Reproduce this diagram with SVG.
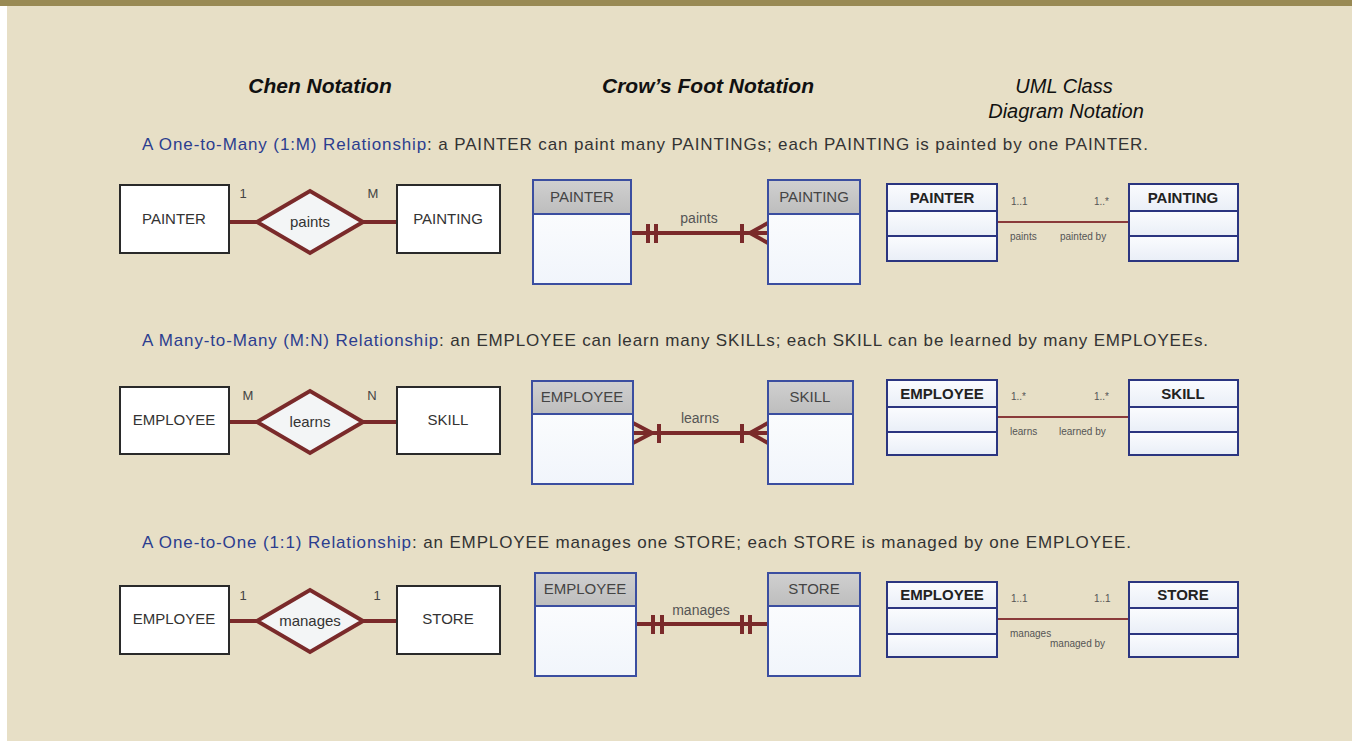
<svg xmlns="http://www.w3.org/2000/svg" width="1352" height="741" viewBox="0 0 1352 741">
<defs>
<linearGradient id="cfHead" x1="0" y1="0" x2="0" y2="1"><stop offset="0" stop-color="#d0d0d0"/><stop offset="1" stop-color="#bdbdbd"/></linearGradient>
<linearGradient id="cfBody" x1="0" y1="0" x2="0" y2="1"><stop offset="0" stop-color="#ffffff"/><stop offset="1" stop-color="#f1f5fb"/></linearGradient>
<linearGradient id="umlRow" x1="0" y1="0" x2="0" y2="1"><stop offset="0" stop-color="#fbfcfe"/><stop offset="1" stop-color="#e9eef7"/></linearGradient>
</defs>
<style>
text{font-family:"Liberation Sans",Arial,sans-serif}
.hdr{font-size:21px;font-weight:bold;font-style:italic;fill:#111;text-anchor:middle}
.hdr2{font-size:20px;font-style:italic;fill:#111;text-anchor:middle}
.cap{font-size:17px;fill:#333}
.capb{fill:#2b3d8f}
.chenBox{fill:#ffffff;stroke:#2a2a2a;stroke-width:2}
.chenTxt{font-size:15px;fill:#333;text-anchor:middle}
.dia{fill:#f3f5f6;stroke:#7a2a2a;stroke-width:4;stroke-linejoin:miter}
.rel{stroke:#7a2a2a;stroke-width:4;fill:none}
.card{font-size:13px;fill:#444;text-anchor:middle}
.cfHead{fill:url(#cfHead);stroke:#3b4ea0;stroke-width:2}
.cfBody{fill:url(#cfBody);stroke:#3b4ea0;stroke-width:2}
.cfTxt{font-size:15px;fill:#444;text-anchor:middle}
.cfLine{stroke:#7a2a2a;stroke-width:4;fill:none}
.cfLbl{font-size:14px;fill:#555;text-anchor:middle}
.uml{fill:url(#umlRow);stroke:#2b3580;stroke-width:2}
.umlTxt{font-size:15px;font-weight:bold;fill:#222;text-anchor:middle}
.umlLine{stroke:#8a3a3a;stroke-width:1.8;fill:none}
.small{font-size:10px;fill:#555}
</style>
<rect x="0" y="0" width="1352" height="741" fill="#e7dfc6"/>
<rect x="0" y="6" width="7" height="735" fill="#ffffff"/>
<rect x="0" y="0" width="1352" height="6" fill="#998a54"/>

<g id="headers">
<text class="hdr" x="320" y="93">Chen Notation</text>
<text class="hdr" x="708" y="93">Crow’s Foot Notation</text>
<text class="hdr2" x="1064" y="93">UML Class</text>
<text class="hdr2" x="1066" y="118">Diagram Notation</text>
</g>

<g id="captions">
<text class="cap" x="142" y="150" textLength="1006" lengthAdjust="spacing"><tspan class="capb">A One-to-Many (1:M) Relationship</tspan>: a PAINTER can paint many PAINTINGs; each PAINTING is painted by one PAINTER.</text>
<text class="cap" x="142" y="346" textLength="1066" lengthAdjust="spacing"><tspan class="capb">A Many-to-Many (M:N) Relationship</tspan>: an EMPLOYEE can learn many SKILLs; each SKILL can be learned by many EMPLOYEEs.</text>
<text class="cap" x="142" y="548" textLength="989" lengthAdjust="spacing"><tspan class="capb">A One-to-One (1:1) Relationship</tspan>: an EMPLOYEE manages one STORE; each STORE is managed by one EMPLOYEE.</text>
</g>

<g id="connectors">
<path class="rel" d="M229 222 H257 M363 222 H397"/>
<path class="rel" d="M229 422 H257 M363 422 H397"/>
<path class="rel" d="M229 621 H257 M363 621 H397"/>
<path class="cfLine" d="M632 233 H768 M648 224 V243 M656 224 V243 M742 224 V243 M750 233 L768 223 M750 233 L768 243"/>
<path class="cfLine" d="M633 433 H768 M633 423 L652 433 L633 443 M659 424 V443 M742 424 V443 M750 433 L768 423 M750 433 L768 443"/>
<path class="cfLine" d="M636 624 H768 M653 615 V634 M662 615 V634 M742 615 V634 M750 615 V634"/>
<path class="umlLine" d="M997 222 H1129"/>
<path class="umlLine" d="M997 417 H1129"/>
<path class="umlLine" d="M997 619 H1129"/>
</g>

<g id="conn-labels">
<text class="card" x="243" y="198">1</text>
<text class="card" x="373" y="198">M</text>
<text class="card" x="248" y="400">M</text>
<text class="card" x="372" y="400">N</text>
<text class="card" x="243" y="600">1</text>
<text class="card" x="377" y="600">1</text>
<text class="cfLbl" x="699" y="223">paints</text>
<text class="cfLbl" x="700" y="423">learns</text>
<text class="cfLbl" x="701" y="615">manages</text>
<text class="small" x="1011" y="205">1..1</text>
<text class="small" x="1094" y="205">1..*</text>
<text class="small" x="1010" y="240">paints</text>
<text class="small" x="1060" y="240">painted by</text>
<text class="small" x="1011" y="400">1..*</text>
<text class="small" x="1094" y="400">1..*</text>
<text class="small" x="1010" y="435">learns</text>
<text class="small" x="1059" y="435">learned by</text>
<text class="small" x="1011" y="602">1..1</text>
<text class="small" x="1094" y="602">1..1</text>
<text class="small" x="1010" y="637">manages</text>
<text class="small" x="1050" y="647">managed by</text>
</g>

<g id="chen-painter"><rect class="chenBox" x="120" y="185" width="109" height="68"/><text class="chenTxt" x="174" y="224">PAINTER</text></g>
<g id="chen-paints"><polygon class="dia" points="257,222 310,191 363,222 310,253"/><text class="chenTxt" x="310" y="227">paints</text></g>
<g id="chen-painting"><rect class="chenBox" x="397" y="185" width="103" height="68"/><text class="chenTxt" x="448" y="224">PAINTING</text></g>

<g id="chen-employee1"><rect class="chenBox" x="120" y="387" width="109" height="67"/><text class="chenTxt" x="174" y="425">EMPLOYEE</text></g>
<g id="chen-learns"><polygon class="dia" points="257,422 310,391 363,422 310,453"/><text class="chenTxt" x="310" y="427">learns</text></g>
<g id="chen-skill"><rect class="chenBox" x="397" y="387" width="103" height="67"/><text class="chenTxt" x="448" y="425">SKILL</text></g>

<g id="chen-employee2"><rect class="chenBox" x="120" y="586" width="109" height="68"/><text class="chenTxt" x="174" y="624">EMPLOYEE</text></g>
<g id="chen-manages"><polygon class="dia" points="257,621 310,590 363,621 310,652"/><text class="chenTxt" x="310" y="626">manages</text></g>
<g id="chen-store"><rect class="chenBox" x="397" y="586" width="103" height="68"/><text class="chenTxt" x="448" y="624">STORE</text></g>

<g id="cf-painter"><rect class="cfBody" x="533" y="180" width="98" height="104"/><rect class="cfHead" x="533" y="180" width="98" height="34"/><text class="cfTxt" x="582" y="202">PAINTER</text></g>
<g id="cf-painting"><rect class="cfBody" x="768" y="180" width="92" height="104"/><rect class="cfHead" x="768" y="180" width="92" height="34"/><text class="cfTxt" x="814" y="202">PAINTING</text></g>

<g id="cf-employee1"><rect class="cfBody" x="532" y="381" width="101" height="103"/><rect class="cfHead" x="532" y="381" width="101" height="33"/><text class="cfTxt" x="582" y="402">EMPLOYEE</text></g>
<g id="cf-skill"><rect class="cfBody" x="768" y="381" width="85" height="103"/><rect class="cfHead" x="768" y="381" width="85" height="33"/><text class="cfTxt" x="810" y="402">SKILL</text></g>

<g id="cf-employee2"><rect class="cfBody" x="535" y="573" width="101" height="103"/><rect class="cfHead" x="535" y="573" width="101" height="33"/><text class="cfTxt" x="585" y="594">EMPLOYEE</text></g>
<g id="cf-store"><rect class="cfBody" x="768" y="573" width="92" height="103"/><rect class="cfHead" x="768" y="573" width="92" height="33"/><text class="cfTxt" x="814" y="594">STORE</text></g>

<g id="uml-painter"><rect class="uml" x="887" y="184" width="110" height="27"/><rect class="uml" x="887" y="211" width="110" height="25"/><rect class="uml" x="887" y="236" width="110" height="25"/><text class="umlTxt" x="942" y="203">PAINTER</text></g>
<g id="uml-painting"><rect class="uml" x="1129" y="184" width="109" height="27"/><rect class="uml" x="1129" y="211" width="109" height="25"/><rect class="uml" x="1129" y="236" width="109" height="25"/><text class="umlTxt" x="1183" y="203">PAINTING</text></g>

<g id="uml-employee1"><rect class="uml" x="887" y="380" width="110" height="27"/><rect class="uml" x="887" y="407" width="110" height="25"/><rect class="uml" x="887" y="432" width="110" height="23"/><text class="umlTxt" x="942" y="399">EMPLOYEE</text></g>
<g id="uml-skill"><rect class="uml" x="1129" y="380" width="109" height="27"/><rect class="uml" x="1129" y="407" width="109" height="25"/><rect class="uml" x="1129" y="432" width="109" height="23"/><text class="umlTxt" x="1183" y="399">SKILL</text></g>

<g id="uml-employee2"><rect class="uml" x="887" y="582" width="110" height="26"/><rect class="uml" x="887" y="608" width="110" height="26"/><rect class="uml" x="887" y="634" width="110" height="23"/><text class="umlTxt" x="942" y="600">EMPLOYEE</text></g>
<g id="uml-store"><rect class="uml" x="1129" y="582" width="109" height="26"/><rect class="uml" x="1129" y="608" width="109" height="26"/><rect class="uml" x="1129" y="634" width="109" height="23"/><text class="umlTxt" x="1183" y="600">STORE</text></g>
</svg>
